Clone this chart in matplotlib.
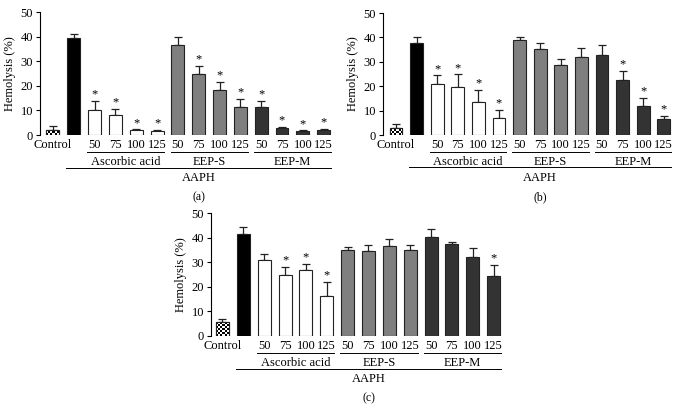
import numpy as np
import matplotlib
matplotlib.use("Agg")
import matplotlib.pyplot as plt

plt.rcParams['font.family'] = ['Liberation Serif', 'DejaVu Serif']

tick_labels = ["Control", "", "50", "75", "100", "125", "50", "75", "100", "125", "50", "75", "100", "125"]
groups = ["Ascorbic acid", "EEP-S", "EEP-M"]

vals_a = [2.2, 39.5, 10.2, 8.0, 2.0, 1.8, 36.5, 25.0, 18.2, 11.5, 11.5, 2.8, 1.7, 2.2]
err_a = [1.5, 1.5, 3.5, 2.7, 0.3, 0.4, 3.3, 3.0, 3.3, 3.2, 2.3, 0.4, 0.2, 0.3]
star_a = [0, 0, 1, 1, 1, 1, 0, 1, 1, 1, 1, 1, 1, 1]

vals_b = [2.8, 37.7, 20.7, 19.7, 13.7, 7.1, 38.9, 35.3, 28.8, 32.1, 32.9, 22.7, 12.0, 6.6]
err_b = [1.6, 2.5, 3.7, 5.1, 4.8, 3.3, 1.3, 2.6, 2.4, 3.6, 3.9, 3.7, 3.3, 1.3]
star_b = [0, 0, 1, 1, 1, 1, 0, 0, 0, 0, 0, 1, 1, 1]

vals_c = [5.6, 41.4, 31.0, 24.8, 26.7, 16.3, 35.0, 34.5, 36.7, 34.8, 40.3, 37.4, 32.0, 24.5]
err_c = [1.5, 2.8, 2.4, 3.2, 2.6, 5.8, 1.0, 2.5, 2.8, 2.2, 3.2, 0.8, 3.6, 4.3]
star_c = [0, 0, 0, 1, 1, 1, 0, 0, 0, 0, 0, 0, 0, 1]

colors = ["white", "black"] + ["white"] * 4 + ["#7f7f7f"] * 4 + ["#333333"] * 4

W, H = 681, 416
fig = plt.figure(figsize=(W / 100, H / 100), dpi=100)


def make_panel(left_px, top_px, right_px, bottom_px, xl, vals, errs, stars, label):
    ax = fig.add_axes([left_px / W, 1 - bottom_px / H, (right_px - left_px) / W, (bottom_px - top_px) / H])
    x = np.arange(len(vals))
    bars = ax.bar(x, vals, width=0.62, color=colors, edgecolor="#222222", linewidth=0.8, zorder=2)
    ax.errorbar(x, vals, yerr=[np.zeros(len(vals)), errs], fmt="none", ecolor="#222222",
                elinewidth=0.9, capsize=3.2, capthick=0.9, zorder=1)
    # checkerboard for control
    b = bars[0]
    rows, cols = 15, 6
    chk = (np.add.outer(np.arange(rows), np.arange(cols)) % 2).astype(float)
    im = ax.imshow(chk, cmap="gray", extent=(b.get_x(), b.get_x() + b.get_width(), 0, 0.8 * rows),
                   aspect="auto", interpolation="nearest", origin="lower", zorder=2.5)
    im.set_clip_path(b)
    ax.bar([0], [vals[0]], width=0.62, color="none", edgecolor="#222222", linewidth=0.8, zorder=3)
    for xi, v, e, s in zip(x, vals, errs, stars):
        if s:
            ax.text(xi, v + e + 0.2, "*", ha="center", va="bottom", fontsize=9)
    ax.set_xlim(xl, 13.4)
    ax.set_ylim(0, 50)
    ax.set_yticks([0, 10, 20, 30, 40, 50])
    ax.set_xticks(x)
    ax.set_xticklabels(tick_labels)
    ax.tick_params(axis="x", length=0, pad=3, labelsize=9)
    ax.tick_params(axis="y", length=3, width=0.8, labelsize=9, pad=2)
    for sp in ["top", "right", "bottom"]:
        ax.spines[sp].set_visible(False)
    ax.spines["left"].set_linewidth(0.8)
    ax.set_ylabel("Hemolysis (%)", fontsize=9, labelpad=3)
    tr = ax.get_xaxis_transform()
    # group underlines
    for gi, g in enumerate(groups):
        s0 = 2 + 4 * gi
        ax.plot([s0 - 0.35, s0 + 3.35], [-0.14, -0.14], transform=tr, color="black", lw=0.7, clip_on=False)
        ax.text(s0 + 1.5, -0.17, g, transform=tr, ha="center", va="top", fontsize=9)
    ax.plot([0.65, 13.35], [-0.265, -0.265], transform=tr, color="black", lw=0.7, clip_on=False)
    ax.text(7.0, -0.30, "AAPH", transform=tr, ha="center", va="top", fontsize=9)
    ax.text(7.0, -0.46, label, transform=tr, ha="center", va="top", fontsize=8.5)
    return ax


make_panel(40, 12, 332, 135, -0.62, vals_a, err_a, star_a, "(a)")
make_panel(383, 13, 672, 135, -0.63, vals_b, err_b, star_b, "(b)")
make_panel(211, 213, 502, 336, -0.55, vals_c, err_c, star_c, "(c)")

fig.savefig("out.png", dpi=100)
